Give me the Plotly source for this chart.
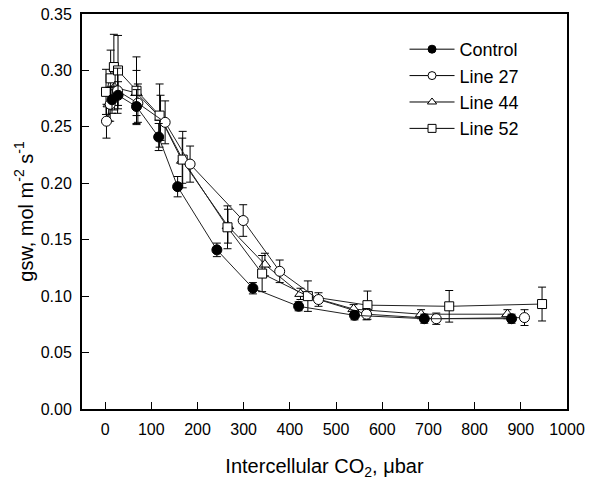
import plotly.graph_objects as go

# ---- data ----
ctrl_x = [15, 28, 68, 116, 157, 242, 320, 419, 540, 691, 880]
ctrl_y = [0.274, 0.278, 0.268, 0.241, 0.197, 0.141, 0.107, 0.091, 0.083, 0.080, 0.080]
ctrl_e = [0.012, 0.012, 0.015, 0.012, 0.009, 0.006, 0.005, 0.004, 0.004, 0.004, 0.004]

l27_x = [3, 11, 27, 71, 130, 184, 299, 378, 462, 566, 717, 908]
l27_y = [0.255, 0.270, 0.282, 0.271, 0.254, 0.217, 0.167, 0.122, 0.097, 0.084, 0.080, 0.081]
l27_e = [0.015, 0.015, 0.020, 0.017, 0.019, 0.016, 0.014, 0.010, 0.006, 0.005, 0.005, 0.007]

l44_x = [8, 20, 68, 120, 167, 266, 346, 423, 538, 684, 871]
l44_y = [0.270, 0.285, 0.280, 0.258, 0.220, 0.162, 0.128, 0.102, 0.0885, 0.084, 0.084]
l44_e = [0.015, 0.020, 0.020, 0.020, 0.020, 0.015, 0.010, 0.005, 0.004, 0.004, 0.004]

l52_x = [2, 12, 19, 28, 68, 118, 168, 265, 340, 439, 568, 745, 946]
l52_y = [0.281, 0.293, 0.303, 0.300, 0.282, 0.260, 0.221, 0.161, 0.120, 0.100, 0.092, 0.091, 0.093]
l52_e = [0.020, 0.025, 0.029, 0.031, 0.030, 0.028, 0.025, 0.019, 0.016, 0.0135, 0.0125, 0.014, 0.015]

x_ticks = [0, 100, 200, 300, 400, 500, 600, 700, 800, 900, 1000]
y_ticks = [0.00, 0.05, 0.10, 0.15, 0.20, 0.25, 0.30, 0.35]

# drawing order: last is on top
series = [
    ("Line 44", l44_x, l44_y, l44_e, "triangle-up", "white", 10),
    ("Line 52", l52_x, l52_y, l52_e, "square", "white", 9),
    ("Line 27", l27_x, l27_y, l27_e, "circle", "white", 10),
    ("Control", ctrl_x, ctrl_y, ctrl_e, "circle", "black", 10),
]

FONT = "Liberation Sans, Arial, sans-serif"
fig = go.Figure()

for name, xs, ys, es, sym, fill, size in series:
    fig.add_trace(go.Scatter(
        x=xs, y=ys, mode="lines+markers", showlegend=False, name=name,
        line=dict(color="#222222", width=1),
        marker=dict(symbol=sym, size=size, color=fill, line=dict(color="black", width=1)),
        error_y=dict(type="data", array=es, visible=True, color="black", thickness=1, width=4),
    ))

# legend entries (smaller symbols, as in the reference)
legend_order = ["Control", "Line 27", "Line 44", "Line 52"]
lookup = {s[0]: s for s in series}
for name in legend_order:
    _, _, _, _, sym, fill, _ = lookup[name]
    fig.add_trace(go.Scatter(
        x=[None], y=[None], mode="lines+markers", name=name, showlegend=True,
        line=dict(color="black", width=1),
        marker=dict(symbol=sym, size=8, color=fill, line=dict(color="black", width=1)),
    ))

fig.update_layout(
    width=591, height=480,
    margin=dict(l=82, r=21, t=6, b=68),
    paper_bgcolor="white", plot_bgcolor="white",
    font=dict(family=FONT, color="black", size=16),
    showlegend=True, hovermode=False,
    legend=dict(x=0.665, y=0.957, xanchor="left", yanchor="top",
                font=dict(size=18), bgcolor="rgba(0,0,0,0)",
                itemwidth=45, tracegroupgap=0),
)
fig.update_xaxes(
    range=[-50, 1000], tickvals=x_ticks, ticks="inside", ticklen=7, tickwidth=1,
    tickcolor="black", showline=True, linecolor="black", linewidth=2, mirror=True,
    showgrid=False, zeroline=False, tickfont=dict(size=16), ticklabelstandoff=5,
    ticklabeloverflow="allow",
    title=dict(text="Intercellular CO<sub>2</sub>, μbar", font=dict(size=20), standoff=22),
)
fig.update_yaxes(
    range=[0, 0.35], tickvals=y_ticks, tickformat=".2f", ticks="inside", ticklen=7,
    tickwidth=1, tickcolor="black", showline=True, linecolor="black", linewidth=2,
    mirror=True, showgrid=False, zeroline=False, tickfont=dict(size=16),
    ticklabelstandoff=5, ticklabeloverflow="allow",
    title=dict(text="gsw, mol m<sup>-2</sup> s<sup>-1</sup>", font=dict(size=20), standoff=2),
)

fig.write_html("out.html", config={"displayModeBar": False},
               post_script="document.body.style.margin='0';")
